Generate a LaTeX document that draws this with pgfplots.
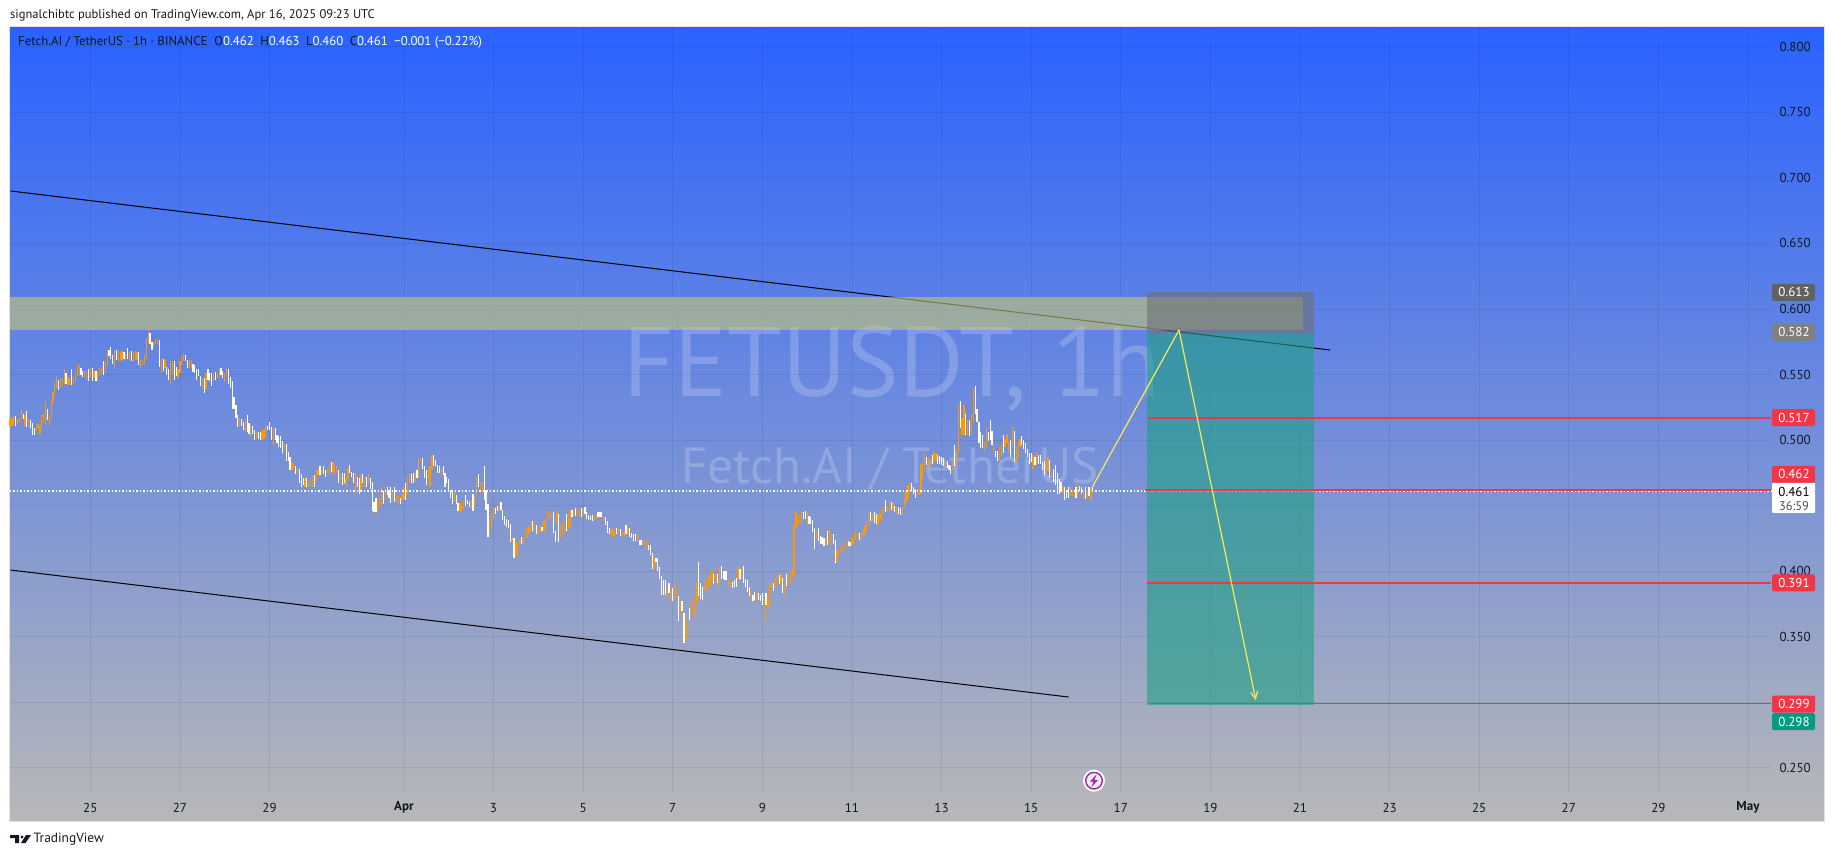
\documentclass[border=0pt]{standalone}
\usepackage{pgfplots}
\usepackage{pgfplotstable}
\usepackage{fontspec}
\pgfplotsset{compat=1.18}
\usetikzlibrary{arrows.meta}
\setmainfont{PT Sans}
\definecolor{tvtop}{RGB}{41,98,255}
\definecolor{tvbot}{RGB}{184,184,184}
\definecolor{tvframe}{RGB}{222,225,230}
\definecolor{tvdark}{RGB}{19,23,34}
\definecolor{barO}{RGB}{255,152,0}
\definecolor{tvred}{RGB}{242,54,69}
\definecolor{tvgreen}{RGB}{8,153,129}
\definecolor{zonec}{RGB}{198,200,115}
\definecolor{boxgrey}{RGB}{110,112,118}
\definecolor{boxteal}{RGB}{30,160,130}
\definecolor{tvyel}{RGB}{245,235,90}
\definecolor{tvpurple}{RGB}{156,39,176}

\pgfplotstableread[row sep=\\]{
h lo hi\\
-43 .511 .516\\ -42 .511 .517\\ -41 .512 .518\\ -39 .512 .516\\ -38 .513 .517\\ -37 .516 .523\\ -35 .511 .519\\ -33 .511 .516\\
-29 .507 .510\\ -28 .509 .512\\ -27 .505 .511\\ -26 .510 .519\\ -25 .513 .520\\ -24 .512 .529\\ -22 .511 .519\\ -21 .517 .530\\
-20 .528 .537\\ -19 .535 .544\\ -18 .540 .549\\ -16 .540 .547\\ -15 .541 .547\\ -14 .543 .554\\ -12 .542 .548\\ -11 .542 .547\\
-9 .542 .548\\ -8 .545 .552\\ -7 .549 .558\\ -6 .549 .557\\ -3 .548 .553\\ -2 .546 .553\\
0 .548 .556\\ 2 .547 .553\\ 4 .545 .552\\ 5 .549 .555\\ 6 .550 .555\\ 8 .551 .560\\ 9 .557 .569\\ 13 .554 .569\\ 15 .560 .569\\
16 .561 .567\\ 17 .560 .568\\ 19 .561 .566\\ 21 .561 .567\\ 23 .560 .567\\ 24 .561 .568\\ 25 .561 .567\\ 27 .555 .561\\ 28 .557 .562\\
29 .557 .565\\ 30 .562 .578\\ 31 .574 .584\\ 34 .571 .575\\ 35 .573 .577\\ 36 .573 .577\\ 38 .551 .562\\ 40 .555 .561\\ 43 .542 .560\\
44 .550 .560\\ 47 .547 .554\\ 48 .551 .560\\ 49 .557 .564\\ 50 .560 .566\\ 53 .555 .561\\ 54 .554 .561\\ 60 .539 .547\\ 62 .539 .551\\
66 .545 .551\\ 68 .547 .551\\ 69 .548 .554\\ 72 .544 .551\\ 73 .548 .555\\ 80 .510 .517\\ 83 .506 .515\\ 86 .502 .512\\ 89 .501 .507\\
92 .500 .508\\ 93 .501 .508\\ 94 .503 .511\\ 98 .496 .509\\ 104 .492 .497\\ 108 .477 .483\\ 109 .478 .482\\ 111 .474 .479\\
115 .464 .471\\ 117 .464 .469\\ 118 .465 .471\\ 119 .464 .473\\ 121 .469 .477\\ 122 .473 .478\\ 124 .473 .477\\ 127 .475 .478\\
128 .474 .481\\ 130 .475 .483\\ 131 .473 .481\\ 132 .476 .480\\ 134 .468 .475\\ 137 .466 .471\\ 138 .470 .479\\ 142 .460 .475\\
145 .461 .473\\ 147 .464 .471\\ 149 .467 .474\\ 154 .443 .454\\ 155 .448 .456\\ 156 .449 .464\\ 158 .454 .464\\ 162 .454 .463\\
164 .452 .458\\ 165 .452 .458\\ 167 .454 .458\\ 168 .454 .464\\ 170 .458 .471\\ 171 .468 .475\\ 174 .468 .475\\ 176 .471 .486\\
177 .483 .486\\ 181 .470 .478\\ 182 .464 .480\\ 183 .477 .488\\ 188 .472 .478\\ 195 .453 .461\\ 198 .445 .452\\ 199 .446 .453\\
200 .447 .454\\ 204 .448 .454\\ 206 .450 .457\\ 207 .457 .472\\ 209 .459 .468\\ 210 .460 .468\\ 214 .426 .435\\ 215 .433 .442\\
216 .440 .449\\ 219 .445 .452\\ 226 .421 .426\\ 228 .411 .422\\ 229 .412 .422\\ 230 .420 .424\\ 232 .421 .426\\ 233 .424 .432\\
234 .426 .433\\ 235 .429 .434\\ 236 .430 .438\\ 238 .431 .438\\ 240 .429 .434\\ 241 .430 .435\\ 243 .430 .438\\ 244 .433 .439\\
245 .439 .445\\ 246 .440 .446\\ 247 .440 .444\\ 250 .437 .446\\
252 .426 .435\\ 253 .426 .438\\ 254 .428 .438\\ 256 .432 .440\\ 257 .433 .447\\ 259 .442 .447\\ 261 .442 .448\\ 262 .441 .447\\
264 .442 .449\\ 270 .438 .443\\ 271 .440 .444\\ 275 .438 .442\\ 279 .426 .433\\ 280 .426 .432\\ 281 .427 .432\\ 283 .428 .433\\
285 .426 .430\\ 286 .427 .431\\ 288 .428 .434\\ 293 .423 .428\\ 296 .420 .424\\ 297 .419 .424\\ 298 .416 .424\\ 302 .402 .411\\
309 .381 .389\\ 311 .377 .387\\ 313 .379 .390\\ 314 .381 .387\\ 316 .366 .378\\ 319 .346 .367\\ 320 .348 .361\\ 322 .368 .378\\
323 .365 .375\\ 324 .364 .381\\ 325 .375 .392\\ 329 .383 .394\\ 330 .386 .392\\ 331 .386 .394\\ 332 .389 .398\\ 333 .393 .401\\
335 .391 .398\\ 337 .388 .403\\ 342 .388 .393\\ 343 .388 .393\\ 347 .394 .403\\ 349 .394 .403\\ 354 .377 .387\\ 357 .377 .383\\
361 .362 .378\\ 363 .372 .378\\ 364 .375 .391\\ 365 .382 .391\\ 367 .387 .395\\ 368 .389 .396\\ 370 .391 .398\\ 372 .382 .391\\
374 .390 .398\\ 375 .391 .400\\ 376 .394 .401\\ 377 .396 .435\\ 378 .433 .445\\ 379 .435 .442\\ 380 .435 .443\\ 381 .436 .445\\
384 .435 .445\\ 389 .424 .431\\ 394 .419 .425\\ 396 .421 .433\\ 397 .420 .428\\ 400 .407 .416\\ 401 .412 .416\\ 402 .414 .420\\
403 .415 .420\\ 404 .416 .421\\ 405 .419 .423\\ 408 .419 .425\\ 409 .421 .428\\ 410 .424 .431\\ 411 .424 .429\\ 413 .424 .430\\
414 .427 .432\\ 415 .428 .435\\ 416 .431 .438\\ 417 .435 .445\\ 419 .438 .444\\ 422 .435 .443\\ 423 .438 .444\\ 424 .439 .447\\
425 .444 .450\\ 427 .445 .450\\ 428 .446 .453\\ 430 .447 .452\\ 432 .444 .449\\ 435 .443 .449\\ 436 .449 .454\\ 437 .452 .461\\
438 .455 .466\\ 439 .461 .468\\ 443 .458 .463\\ 444 .458 .463\\ 445 .459 .482\\ 446 .470 .483\\ 447 .476 .490\\ 449 .480 .487\\
450 .480 .486\\ 452 .485 .491\\ 453 .484 .490\\ 458 .480 .483\\ 462 .477 .484\\ 464 .481 .493\\ 465 .491 .528\\ 467 .504 .517\\
468 .504 .527\\ 470 .504 .515\\ 472 .504 .520\\ 473 .514 .540\\ 479 .491 .499\\ 480 .494 .510\\ 484 .491 .496\\ 487 .484 .495\\
488 .487 .497\\ 490 .495 .501\\ 491 .498 .505\\ 492 .490 .499\\ 494 .496 .510\\ 496 .482 .495\\ 497 .486 .499\\ 498 .495 .501\\
505 .478 .489\\ 507 .481 .491\\ 512 .475 .480\\ 513 .477 .487\\ 515 .472 .476\\ 521 .460 .464\\ 525 .457 .464\\ 526 .457 .463\\
527 .456 .462\\ 529 .457 .468\\ 532 .455 .462\\ 534 .456 .461\\ 536 .454 .463\\
}\tblO

\pgfplotstableread[row sep=\\]{
h lo hi\\
-40 .511 .518\\ -36 .516 .520\\ -34 .510 .522\\ -32 .509 .515\\ -31 .504 .513\\ -30 .504 .509\\ -23 .515 .524\\ -17 .538 .546\\
-13 .543 .551\\ -10 .542 .554\\ -5 .550 .555\\ -4 .548 .553\\ -1 .545 .554\\
1 .545 .555\\ 3 .545 .553\\ 7 .550 .560\\ 10 .564 .569\\ 11 .562 .571\\ 12 .558 .565\\ 14 .561 .569\\ 18 .562 .567\\ 20 .562 .570\\
22 .560 .568\\ 26 .557 .567\\ 32 .573 .582\\ 33 .569 .575\\ 37 .556 .576\\ 39 .553 .562\\ 41 .550 .556\\ 42 .546 .554\\ 45 .546 .560\\
46 .549 .556\\ 51 .560 .565\\ 52 .555 .561\\ 55 .552 .558\\ 56 .551 .557\\ 57 .546 .554\\ 58 .549 .554\\ 59 .541 .549\\ 61 .536 .547\\
63 .546 .554\\ 64 .545 .551\\ 65 .541 .551\\ 67 .546 .552\\ 70 .550 .555\\ 71 .547 .553\\ 74 .543 .554\\ 75 .540 .548\\ 76 .524 .545\\
77 .524 .533\\ 78 .517 .527\\ 79 .510 .519\\ 81 .511 .516\\ 82 .508 .514\\ 84 .506 .519\\ 85 .505 .513\\ 87 .505 .511\\ 88 .500 .508\\
90 .501 .506\\ 91 .500 .506\\ 95 .508 .511\\ 96 .508 .514\\ 97 .500 .510\\ 99 .500 .509\\ 100 .498 .504\\ 101 .495 .503\\ 102 .494 .503\\
103 .490 .499\\ 105 .484 .497\\ 106 .484 .491\\ 107 .477 .487\\ 110 .474 .480\\ 112 .467 .478\\ 113 .464 .474\\ 114 .466 .471\\
116 .464 .471\\ 120 .464 .473\\ 123 .473 .480\\ 125 .474 .480\\ 126 .472 .477\\ 129 .476 .483\\ 133 .467 .477\\ 135 .466 .475\\
136 .467 .475\\ 139 .475 .481\\ 140 .472 .476\\ 141 .467 .475\\ 143 .464 .472\\ 144 .459 .471\\ 146 .467 .474\\ 148 .464 .472\\
150 .463 .471\\ 151 .446 .468\\ 152 .445 .453\\ 153 .445 .456\\ 157 .451 .461\\ 159 .458 .464\\ 160 .456 .462\\ 161 .452 .464\\
163 .453 .464\\ 166 .451 .456\\ 169 .454 .467\\ 172 .467 .474\\ 173 .467 .475\\ 175 .471 .477\\ 178 .478 .486\\ 179 .471 .480\\
180 .466 .477\\ 184 .480 .489\\ 185 .480 .485\\ 186 .475 .481\\ 187 .475 .480\\ 189 .473 .480\\ 190 .464 .475\\ 191 .467 .472\\
192 .461 .470\\ 193 .456 .462\\ 194 .451 .461\\ 196 .451 .458\\ 197 .446 .452\\ 201 .450 .458\\ 202 .451 .454\\ 203 .449 .453\\
205 .446 .459\\ 208 .464 .474\\ 211 .454 .480\\ 212 .447 .462\\ 213 .426 .451\\ 217 .444 .448\\ 218 .446 .450\\ 220 .447 .453\\
221 .439 .447\\ 222 .435 .442\\ 223 .434 .440\\ 224 .433 .439\\ 225 .422 .436\\ 227 .410 .425\\ 231 .421 .426\\ 237 .431 .438\\
239 .428 .435\\ 242 .431 .434\\ 248 .429 .445\\ 249 .422 .431\\
251 .422 .444\\ 255 .431 .444\\ 258 .441 .447\\ 260 .442 .448\\ 263 .441 .448\\ 265 .444 .449\\ 266 .440 .445\\ 267 .439 .443\\
268 .439 .442\\ 269 .438 .443\\ 272 .441 .445\\ 273 .441 .445\\ 274 .441 .445\\ 276 .435 .441\\ 277 .429 .438\\ 278 .428 .433\\
282 .428 .433\\ 284 .427 .432\\ 287 .428 .435\\ 289 .426 .433\\ 290 .425 .429\\ 291 .423 .428\\ 292 .423 .428\\ 294 .420 .424\\
295 .420 .424\\ 299 .416 .420\\ 300 .412 .420\\ 301 .402 .414\\ 303 .407 .410\\ 304 .400 .410\\ 305 .394 .403\\ 306 .382 .396\\
307 .382 .393\\ 308 .382 .393\\ 310 .383 .391\\ 312 .377 .387\\ 315 .362 .381\\ 317 .370 .377\\ 318 .345 .368\\ 321 .363 .372\\
326 .381 .407\\ 327 .379 .391\\ 328 .378 .388\\ 334 .390 .398\\ 336 .391 .398\\ 338 .394 .404\\ 339 .394 .400\\ 340 .393 .400\\
341 .393 .400\\ 344 .387 .392\\ 345 .388 .393\\ 346 .388 .395\\ 348 .394 .402\\ 350 .391 .404\\ 351 .388 .394\\ 352 .384 .393\\
353 .381 .388\\ 355 .377 .382\\ 356 .378 .384\\ 358 .378 .383\\ 359 .377 .382\\ 360 .374 .383\\ 362 .374 .383\\ 366 .385 .391\\
369 .390 .397\\ 371 .383 .395\\ 373 .389 .398\\ 382 .440 .445\\ 383 .440 .446\\ 385 .436 .442\\ 386 .436 .441\\ 387 .430 .439\\
388 .417 .433\\ 390 .423 .433\\ 391 .421 .427\\ 392 .421 .426\\ 393 .419 .425\\ 395 .420 .431\\ 398 .421 .428\\ 399 .406 .424\\
406 .419 .423\\ 407 .419 .422\\ 412 .424 .429\\ 418 .438 .445\\ 420 .437 .445\\ 421 .436 .444\\ 426 .445 .454\\ 429 .447 .453\\
431 .445 .450\\ 433 .444 .449\\ 434 .443 .448\\ 440 .461 .467\\ 441 .459 .464\\ 442 .456 .463\\ 448 .481 .487\\ 451 .482 .489\\
454 .482 .489\\ 455 .482 .488\\ 456 .481 .487\\ 457 .480 .486\\ 459 .479 .484\\ 460 .477 .481\\ 461 .474 .480\\ 463 .480 .496\\
466 .509 .530\\ 469 .504 .520\\ 471 .503 .515\\ 474 .520 .541\\ 475 .514 .524\\ 476 .498 .514\\ 477 .494 .506\\ 478 .494 .504\\
481 .499 .506\\ 482 .500 .515\\ 483 .496 .507\\ 485 .487 .492\\ 486 .484 .492\\ 489 .490 .504\\ 493 .487 .500\\ 495 .483 .507\\
499 .496 .503\\ 500 .493 .500\\ 501 .490 .498\\ 502 .487 .493\\ 503 .482 .490\\ 504 .483 .490\\ 506 .481 .487\\ 508 .482 .489\\
509 .482 .489\\ 510 .477 .483\\ 511 .473 .484\\ 514 .471 .485\\ 516 .468 .478\\ 517 .466 .481\\ 518 .459 .475\\ 519 .459 .470\\
520 .461 .468\\ 522 .454 .464\\ 523 .456 .462\\ 524 .456 .464\\ 528 .456 .464\\ 530 .461 .465\\ 531 .459 .464\\ 533 .455 .464\\
535 .457 .464\\ 537 .461 .464\\
}\tblW

\newcommand{\tvtag}[3]{%
  \fill[#2,rounded corners=1.5pt] (1772,{857-#1-8.5}) rectangle (1815,{857-#1+8.5});
  \node[text=white,font=\fontsize{13}{15}\selectfont,anchor=center] at (1794,{857-#1}) {#3};}

\begin{document}
\begin{tikzpicture}[x=1pt,y=1pt]
\path[use as bounding box] (0,0) rectangle (1835,857);
\shade[top color=tvtop,bottom color=tvbot] (10,830) rectangle (1824,36);
\draw[tvframe,line width=1.5pt] (9.5,830.5) rectangle (1824.5,35.5);
% watermarks
\node[text=white,opacity=.2,font=\fontsize{99}{110}\selectfont] at (892,488) {FETUSDT, 1h};
\node[text=white,opacity=.2,font=\fontsize{51}{55}\selectfont] at (890,388) {Fetch.AI / TetherUS};
% header
\node[anchor=west,inner sep=0pt,text=tvdark,font=\fontsize{12.55}{15}\selectfont] at (10,842) {signalchibtc published on TradingView.com, Apr 16, 2025 09:23 UTC};
\begin{axis}[
  at={(10pt,64pt)},anchor=south west,scale only axis,width=1761pt,height=766pt,
  xmin=-43.02,xmax=900.35,ymin=0.23081,ymax=0.81510,
  clip=false,axis line style={draw=none},
  grid=major,grid style={black,opacity=.07,line width=.8pt},
  major tick length=0pt,
  xtick={0,48,96,168,216,264,312,360,408,456,504,552,600,648,696,744,792,840,888},
  xticklabels={25,27,29,\textbf{Apr},3,5,7,9,11,13,15,17,19,21,23,25,27,29,\textbf{May}},
  xticklabel style={font=\fontsize{13}{15}\selectfont,text=tvdark,anchor=center,yshift=-14.7pt},
  ytick={.25,.30,.35,.40,.45,.50,.55,.60,.65,.70,.75,.80},
  yticklabels={0.250,{},0.350,0.400,{},0.500,0.550,0.600,0.650,0.700,0.750,0.800},
  yticklabel pos=right,
  yticklabel style={font=\fontsize{13}{15}\selectfont,text=tvdark,anchor=west,xshift=5pt},
]
% channel lines
\addplot[black,line width=1pt] coordinates {(-42.7,.690) (664.1,.5687)};
\addplot[black,line width=1pt] coordinates {(-42.7,.4009) (524.1,.304)};
% bars
\addplot[draw=none,mark=none,error bars/.cd,y dir=plus,y explicit,error mark=none,
  error bar style={draw=barO,line width=1.2pt}]
  table[x=h,y=lo,y error expr=\thisrow{hi}-\thisrow{lo}] {\tblO};
\addplot[draw=none,mark=none,error bars/.cd,y dir=plus,y explicit,error mark=none,
  error bar style={draw=white,line width=1.2pt}]
  table[x=h,y=lo,y error expr=\thisrow{hi}-\thisrow{lo}] {\tblW};
% last price line
\addplot[white,line width=1.2pt,dash pattern=on 1.5pt off 2pt] coordinates {(-43.02,.4612) (900.35,.4612)};
% zone and position boxes
\fill[zonec,opacity=.6] (axis cs:-43.02,.6089) rectangle (axis cs:649.6,.584);
\fill[boxgrey,opacity=.6] (axis cs:566.1,.613) rectangle (axis cs:655.4,.582);
\fill[boxteal,opacity=.6] (axis cs:566.1,.582) rectangle (axis cs:655.4,.298);
% target lines
\addplot[tvred,line width=1.5pt] coordinates {(566.6,.517) (900.35,.517)};
\addplot[tvred,line width=1.5pt] coordinates {(565,.462) (900.35,.462)};
\addplot[tvred,line width=1.5pt] coordinates {(566.1,.391) (900.35,.391)};
\addplot[tvred,line width=1.5pt] coordinates {(567,.299) (900.35,.299)};
% projection
\addplot[tvyel,line width=1.2pt] coordinates {(536.5,.4635) (583.2,.584)};
\addplot[tvyel,line width=1.2pt,-{Straight Barb[length=7pt,width=7pt]}] coordinates {(583.2,.584) (624.3,.3018)};
\end{axis}
% legend line
\node[anchor=west,inner sep=0pt,font=\fontsize{12.8}{14}\selectfont,text=tvdark] at (18,815)
 {Fetch.AI / TetherUS · 1h · BINANCE\hspace{7pt}O\textcolor{white}{0.462}\hspace{6.5pt}H\textcolor{white}{0.463}\hspace{6.5pt}L\textcolor{white}{0.460}\hspace{6.5pt}C\textcolor{white}{0.461}\hspace{6.5pt}\textcolor{white}{−0.001 (−0.22\%)}};
% price tags
\tvtag{292.3}{black!62}{0.613}
\tvtag{332.3}{black!50}{0.582}
\tvtag{417.7}{tvred}{0.517}
\tvtag{474.3}{tvred}{0.462}
\fill[white,rounded corners=1pt] (1772,374) rectangle (1815,344);
\node[text=black,font=\fontsize{13}{15}\selectfont] at (1794,365.3) {0.461};
\node[text=black!70,font=\fontsize{12.5}{14}\selectfont] at (1794,351) {36:59};
\tvtag{583}{tvred}{0.391}
\tvtag{704}{tvred}{0.299}
\tvtag{721.7}{tvgreen}{0.298}
% lightning icon
\fill[white] (1094,76.3) circle (11);
\draw[tvpurple,fill=white!85!gray,line width=1.4pt] (1094,76.3) circle (8.3);
\fill[tvpurple] (1096.5,82.5) -- (1090,75.5) -- (1093.5,75.5) -- (1091.5,70) -- (1098,77) -- (1094.5,77) -- cycle;
% TradingView logo
\fill[tvdark] (10,22) -- (19,22) -- (19,14) -- (15,14) -- (15,19) -- (10,19) -- cycle;
\fill[tvdark] (22,20) circle (1.7);
\fill[tvdark] (26,22) -- (31,22) -- (25.5,14) -- (21,14) -- cycle;
\node[anchor=west,inner sep=0pt,text=tvdark,font=\fontsize{13.4}{16}\selectfont] at (33.5,17.5) {TradingView};
\end{tikzpicture}
\end{document}
